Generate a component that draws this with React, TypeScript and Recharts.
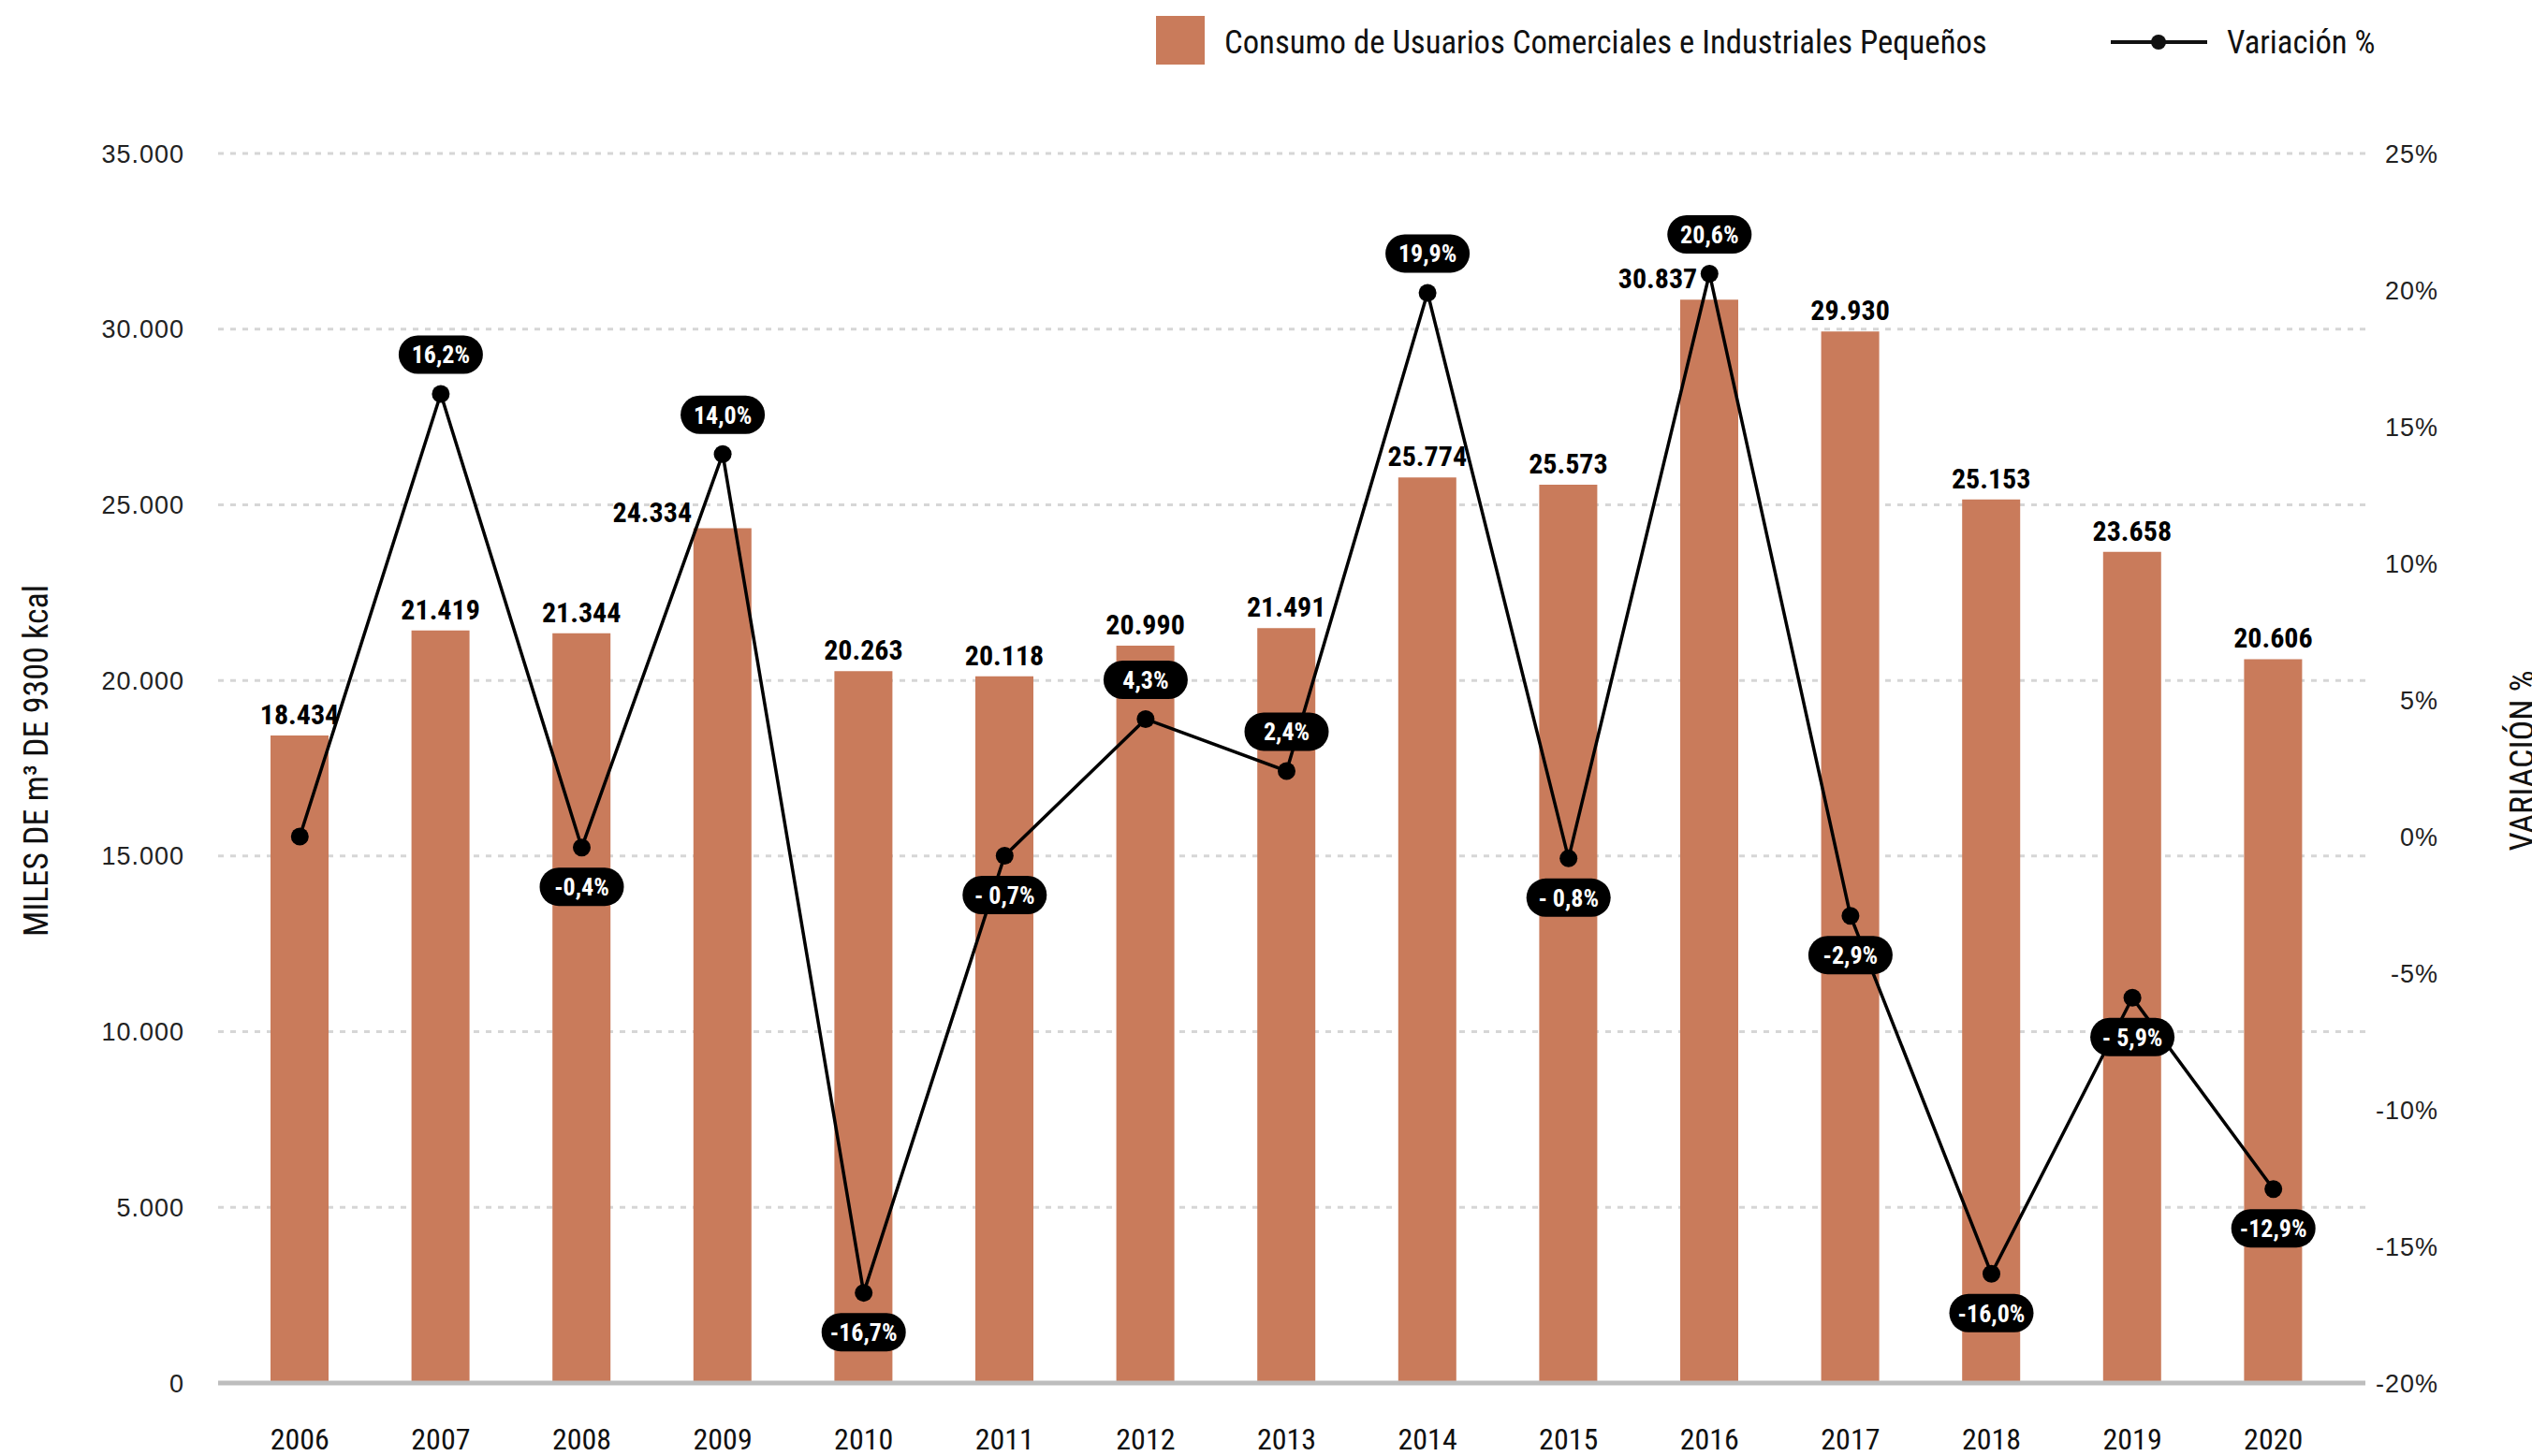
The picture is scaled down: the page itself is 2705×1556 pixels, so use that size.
import {
  Bar,
  CartesianGrid,
  ComposedChart,
  LabelList,
  Line,
  XAxis,
  YAxis,
} from "recharts";

const YEARS = [
  "2006", "2007", "2008", "2009", "2010", "2011", "2012", "2013",
  "2014", "2015", "2016", "2017", "2018", "2019", "2020",
];
const CONSUMPTION = [
  18434, 21419, 21344, 24334, 20263, 20118, 20990, 21491,
  25774, 25573, 30837, 29930, 25153, 23658, 20606,
];
const VARIATION = [
  0, 16.2, -0.4, 14.0, -16.7, -0.7, 4.3, 2.4,
  19.9, -0.8, 20.6, -2.9, -16.0, -5.9, -12.9,
];
const VARIATION_LABELS = [
  "", "16,2%", "-0,4%", "14,0%", "-16,7%", "- 0,7%", "4,3%", "2,4%",
  "19,9%", "- 0,8%", "20,6%", "-2,9%", "-16,0%", "- 5,9%", "-12,9%",
];
const LEFT_TICKS = [0, 5000, 10000, 15000, 20000, 25000, 30000, 35000];
const RIGHT_TICKS = [-20, -15, -10, -5, 0, 5, 10, 15, 20, 25];

const BAR_NAME = "Consumo de Usuarios Comerciales e Industriales Pequeños";
const LINE_NAME = "Variación %";
const LEFT_TITLE = "MILES DE m³ DE 9300 kcal";
const RIGHT_TITLE = "VARIACIÓN %";

const data = YEARS.map((year, i) => ({
  year,
  consumo: CONSUMPTION[i],
  variacion: VARIATION[i],
  etiqueta: VARIATION_LABELS[i],
}));

const W = 2705;
const H = 1556;
const BAR_COLOR = "#C97B5B";
const COND = "'Roboto Condensed', 'Liberation Sans Narrow', 'DejaVu Sans Condensed', sans-serif";
const WIDE = "'Liberation Sans', Arial, sans-serif";

// labels that sit left of their bar so the line does not cross them
const LABEL_NUDGE: Record<string, { dx: number; dy: number }> = {
  "2009": { dx: -75, dy: 6 },
  "2016": { dx: -55, dy: 0 },
};

const miles = (v: number) => String(v).replace(/\B(?=(\d{3})+(?!\d))/g, ".");

function BarValueLabel(props: any) {
  const { x = 0, y = 0, width = 0, value, index = 0 } = props;
  const n = LABEL_NUDGE[YEARS[index]] ?? { dx: 0, dy: 0 };
  return (
    <text
      x={x + width / 2 + n.dx}
      y={y - 12 + n.dy}
      textAnchor="middle"
      fontFamily={COND}
      fontWeight={700}
      fontSize={30}
      fill="#000"
    >
      {miles(Number(value))}
    </text>
  );
}

function PillLabel(props: any) {
  const { x = 0, y = 0, value, index = 0 } = props;
  const v = VARIATION[index];
  if (!value || v === 0) return null;
  const cy = v > 0 ? y - 42 : y + 42;
  return (
    <g>
      <rect x={x - 45} y={cy - 20.5} width={90} height={41} rx={20.5} fill="#000" />
      <text
        x={x}
        y={cy}
        dy="0.36em"
        textAnchor="middle"
        fontFamily={COND}
        fontWeight={700}
        fontSize={26}
        fill="#fff"
      >
        {value}
      </text>
    </g>
  );
}

function RightTick(props: any) {
  const { x = 0, y = 0, payload } = props;
  return (
    <text
      x={x + 78}
      y={y}
      dy="0.36em"
      textAnchor="end"
      fontFamily={WIDE}
      fontSize={27}
      letterSpacing={1}
      fill="#222"
    >
      {payload.value}%
    </text>
  );
}

function AxisTitle(props: any) {
  const { viewBox, text, cxAbs } = props;
  const cy = viewBox.y + viewBox.height / 2 - 8;
  return (
    <text
      transform={`translate(${cxAbs}, ${cy}) rotate(-90)`}
      textAnchor="middle"
      dy="0.36em"
      fontFamily={COND}
      fontSize={36}
      fill="#111"
    >
      {text}
    </text>
  );
}

function LegendBox() {
  return (
    <>
      <div
        style={{
          position: "absolute",
          left: 1235,
          top: 17,
          width: 52,
          height: 52,
          background: BAR_COLOR,
        }}
      />
      <div
        style={{
          position: "absolute",
          left: 1308,
          top: 22,
          height: 46,
          lineHeight: "46px",
          fontFamily: COND,
          fontSize: 34.7,
          color: "#111",
          whiteSpace: "nowrap",
        }}
      >
        {BAR_NAME}
      </div>
      <svg
        style={{ position: "absolute", left: 2250, top: 30 }}
        width={112}
        height={30}
      >
        <line x1={5} y1={15} x2={108} y2={15} stroke="#111" strokeWidth={4} />
        <circle cx={56} cy={15} r={8} fill="#111" />
      </svg>
      <div
        style={{
          position: "absolute",
          left: 2379,
          top: 22,
          height: 46,
          lineHeight: "46px",
          fontFamily: COND,
          fontSize: 34.7,
          color: "#111",
          whiteSpace: "nowrap",
        }}
      >
        {LINE_NAME}
      </div>
    </>
  );
}

export default function App() {
  return (
    <div
      style={{
        position: "absolute",
        left: 0,
        top: 0,
        width: W,
        height: H,
        background: "#fff",
        overflow: "hidden",
      }}
    >
      <LegendBox />
      <ComposedChart
        width={W}
        height={H}
        data={data}
        margin={{ top: 164, right: 0, bottom: 0, left: 0 }}
      >
        <CartesianGrid
          yAxisId="left"
          vertical={false}
          stroke="#d6d6d6"
          strokeWidth={3}
          strokeDasharray="6 7"
        />
        <XAxis
          dataKey="year"
          height={78}
          padding={{ left: 12, right: 23 }}
          axisLine={{ stroke: "#bdbdbd", strokeWidth: 5 }}
          tickLine={false}
          tickSize={0}
          tickMargin={48}
          interval={0}
          tick={{ fontFamily: COND, fontSize: 32, fill: "#111" }}
        />
        <YAxis
          yAxisId="left"
          width={233}
          domain={[0, 35000]}
          ticks={LEFT_TICKS}
          interval={0}
          axisLine={false}
          tickLine={false}
          tickSize={0}
          tickMargin={36}
          tickFormatter={(v: number) => miles(v)}
          tick={{ fontFamily: WIDE, fontSize: 27, fill: "#222", letterSpacing: 1 }}
          label={{
            content: (p: any) => <AxisTitle {...p} text={LEFT_TITLE} cxAbs={38} />,
          }}
        />
        <YAxis
          yAxisId="right"
          orientation="right"
          width={178}
          domain={[-20, 25]}
          ticks={RIGHT_TICKS}
          interval={0}
          axisLine={false}
          tickLine={false}
          tickSize={0}
          tickMargin={0}
          tick={<RightTick />}
          label={{
            content: (p: any) => <AxisTitle {...p} text={RIGHT_TITLE} cxAbs={2694} />,
          }}
        />
        <Bar
          yAxisId="left"
          dataKey="consumo"
          name={BAR_NAME}
          fill={BAR_COLOR}
          barSize={62}
          isAnimationActive={false}
        >
          <LabelList dataKey="consumo" content={<BarValueLabel />} />
        </Bar>
        <Line
          yAxisId="right"
          type="linear"
          dataKey="variacion"
          name={LINE_NAME}
          stroke="#000"
          strokeWidth={3.5}
          dot={{ r: 9.5, fill: "#000", stroke: "none" }}
          activeDot={false}
          isAnimationActive={false}
        >
          <LabelList dataKey="etiqueta" content={<PillLabel />} />
        </Line>
      </ComposedChart>
    </div>
  );
}
